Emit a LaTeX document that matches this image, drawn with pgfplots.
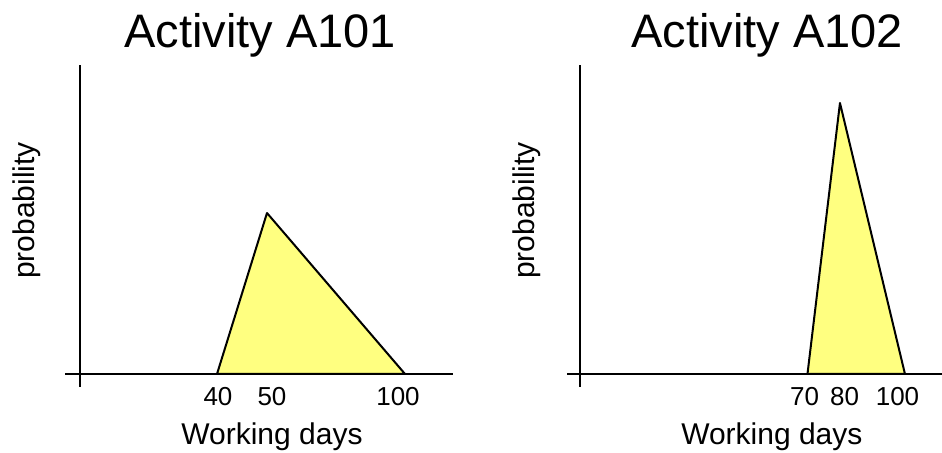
\documentclass[border=0pt]{standalone}
\usepackage{fontspec}
\setmainfont{Liberation Sans}
\usepackage{pgfplots}
\pgfplotsset{compat=1.18}
\definecolor{fillyellow}{RGB}{255,255,128}
\pgfplotsset{
  every axis title shift=0pt,
  tri/.style={
    scale only axis,
    axis lines=left,
    axis line style={-, line width=1.25pt},
    y axis line style={shorten <=-6.5pt},
    ymin=0, ymax=1,
    ytick=\empty,
    major tick length=0pt,
    height=154.5pt,
    anchor=south west,
    clip=false,
    /pgf/number format/assume math mode=true,
    tick label style={font=\fontsize{13}{15}\selectfont},
    xticklabel style={yshift=-3pt},
    title style={font=\fontsize{23.5}{28}\selectfont, anchor=base},
    label style={font=\fontsize{15}{18}\selectfont},
    xlabel style={anchor=base},
    ylabel style={anchor=base},
  }
}
\begin{document}
\begin{tikzpicture}
\path[use as bounding box] (0,0) rectangle (471pt,226.5pt);
% Activity A101 (schematic, non-uniform day scale as in the original)
\begin{axis}[tri,
  at={(40pt,39.5pt)}, width=186.5pt,
  x coord trafo/.code={\pgfmathparse{(#1)<=50 ? 217+((#1)-40)*5 : 267+((#1)-50)*2.76}},
  x coord inv trafo/.code={\pgfmathparse{(#1)<=267 ? 40+((#1)-217)/5 : 50+((#1)-267)/2.76}},
  xmin=12.6, xmax=117.39,
  x axis line style={shorten <=-7.5pt},
  xtick={40.2,51.81,97.46},
  xticklabels={40,50,100},
  title={Activity A101},
  title style={at={(axis description cs:0.4826,1.055)}},
  xlabel={Working days},
  xlabel style={at={(axis description cs:0.5147,-0.2298)}},
  ylabel={probability},
  ylabel style={at={(axis description cs:-0.123,0.529)}},
]
\addplot[draw=black, line width=1pt, fill=fillyellow, line join=round]
  coordinates {(40,0) (50,0.521) (100,0)} -- cycle;
\end{axis}
% Activity A102
\begin{axis}[tri,
  at={(290pt,39.5pt)}, width=181pt,
  xmin=0, xmax=111.4,
  x axis line style={shorten <=-6.5pt},
  xtick={69.1,81.4,97.7},
  xticklabels={70,80,100},
  title={Activity A102},
  title style={at={(axis description cs:0.5166,1.055)}},
  xlabel={Working days},
  xlabel style={at={(axis description cs:0.530,-0.2298)}},
  ylabel={probability},
  ylabel style={at={(axis description cs:-0.127,0.529)}},
]
\addplot[draw=black, line width=1pt, fill=fillyellow, line join=round]
  coordinates {(70,0) (80,0.877) (100,0)} -- cycle;
\end{axis}
\end{tikzpicture}
\end{document}
